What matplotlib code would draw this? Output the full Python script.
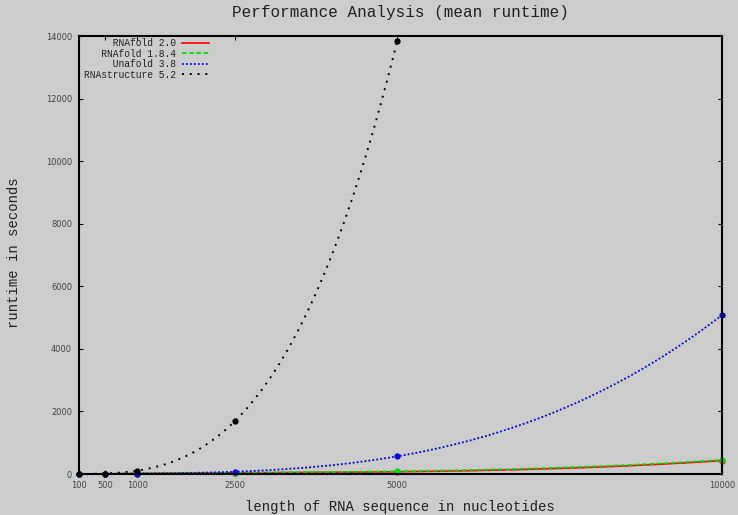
import matplotlib
matplotlib.use("Agg")
import matplotlib.pyplot as plt
import numpy as np

# sequence lengths (nt) and mean runtimes (s)
lengths = [100, 500, 1000, 2500, 5000, 10000]
rnafold_20 = [0, 2, 8, 40, 70, 430]
rnafold_184 = [0, 2, 9, 45, 85, 450]
unafold_38 = [0, 3, 12, 75, 565, 5080]
rnastructure_lengths = [100, 500, 1000, 2500, 5000]
rnastructure_52 = [0, 15, 110, 1690, 13850]

bg = '#cccccc'
mono = 'Liberation Mono'

fig = plt.figure(figsize=(7.38, 5.15), dpi=100, facecolor=bg)
ax = fig.add_axes([79 / 738, 41 / 515, 643 / 738, 438 / 515], facecolor=bg)


def smooth(xs, ys, deg=3):
    # cubic fit through the measured points, like gnuplot's smoothing
    xs = np.asarray(xs, float) / 1000.0
    c = np.polyfit(xs, ys, deg)
    xx = np.linspace(xs[0], xs[-1], 300)
    return xx * 1000.0, np.polyval(c, xx)


series = [
    (lengths, rnafold_20, 'RNAfold 2.0', 'red', '-', 1.2),
    (lengths, rnafold_184, 'RNAfold 1.8.4', '#00dd00', (0, (2.5, 1.5)), 1.3),
    (lengths, unafold_38, 'Unafold 3.8', '#0000ee', (0, (1, 1.2)), 1.3),
    (rnastructure_lengths, rnastructure_52, 'RNAstructure 5.2', 'black', (0, (1, 3)), 1.4),
]

width = max(len(s[2]) for s in series)
for xs, ys, name, col, ls, lw in series:
    sx, sy = smooth(xs, ys)
    ax.plot(sx, sy, color=col, ls=ls, lw=lw, label=name.rjust(width))
    ax.plot(xs, ys, 'o', color=col, ms=3.5, ls='none', clip_on=False)

ax.set_xlim(100, 10000)
ax.set_ylim(0, 14000)
ax.set_xticks(lengths)
ax.set_yticks(np.arange(0, 14001, 2000))
ax.tick_params(direction='in', length=3, width=0.8, top=True, right=True,
               labelsize=6, labelcolor='#444444', pad=5)
for sp in ax.spines.values():
    sp.set_linewidth(1.5)

# titles placed in figure coordinates
fig.text(400 / 738, 1 - 13 / 515, 'Performance Analysis (mean runtime)',
         fontfamily=mono, fontsize=11.5, color='#222222',
         ha='center', va='center')
fig.text(400 / 738, 1 - 507 / 515, 'length of RNA sequence in nucleotides',
         fontfamily=mono, fontsize=10, color='#222222',
         ha='center', va='center')
fig.text(14 / 738, 1 - 253 / 515, 'runtime in seconds', rotation=90,
         fontfamily=mono, fontsize=10, color='#222222',
         ha='center', va='center')

leg = ax.legend(loc='upper left', bbox_to_anchor=(0.008, 0.995),
                frameon=False, markerfirst=False, borderaxespad=0,
                borderpad=0, handlelength=2.8, handletextpad=0.6,
                labelspacing=0.05, prop={'family': mono, 'size': 6.9})
for t in leg.get_texts():
    t.set_color('#222222')

fig.savefig('out.png', dpi=100, facecolor=bg)
